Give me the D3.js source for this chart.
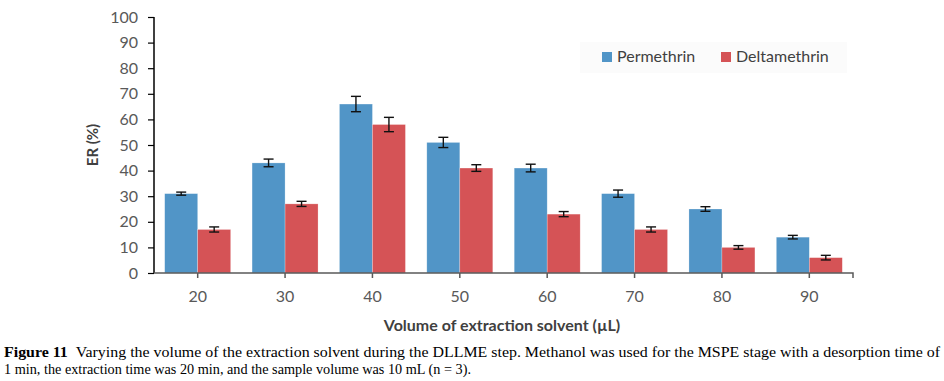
<!DOCTYPE html>
<html>
<head>
<meta charset="utf-8">
<script src="https://cdn.jsdelivr.net/npm/d3@7"></script>
<style>
  body { margin: 0; background: #fff; }
  svg { display: block; }
</style>
</head>
<body>
<div id="chart"></div>
<script>
// Données
const volumes = ["20", "30", "40", "50", "60", "70", "80", "90"];
const series = ["Permethrin", "Deltamethrin"];
const permethrin = [31, 43, 66, 51, 41, 31, 25, 14];
const permethrinErr = [0.6, 1.5, 3, 2, 1.5, 1.4, 0.9, 0.7];
const deltamethrin = [17, 27, 58, 41, 23, 17, 10, 6];
const deltamethrinErr = [1, 1, 2.8, 1.3, 1, 1, 0.7, 0.9];
const yTicks = [0, 10, 20, 30, 40, 50, 60, 70, 80, 90, 100];
const colors = ["#5195C7", "#D55356"];

const width = 944, height = 381;
const x0 = 154, x1 = 853, yTop = 17, yBottom = 273;
const font = "Lato, 'Open Sans', sans-serif";

const svg = d3.select("#chart").append("svg")
    .attr("width", width)
    .attr("height", height);

const xScale = d3.scaleBand()
    .domain(volumes)
    .range([x0, x1])
    .paddingInner(0.245)
    .paddingOuter(0.1225);

const xSub = d3.scaleBand()
    .domain(series)
    .range([0, xScale.bandwidth()]);

const yScale = d3.scaleLinear()
    .domain([0, 100])
    .range([yBottom, yTop]);

// Légende (fond gris très clair)
const legend = svg.append("g").attr("transform", "translate(580,42)");
legend.append("rect")
    .attr("width", 267).attr("height", 31)
    .attr("fill", "#fbfbfb");
series.forEach(function(s, i) {
    const row = legend.append("g")
        .attr("transform", "translate(" + (22 + i * 119) + ",10)");
    row.append("rect")
        .attr("width", 10).attr("height", 10)
        .attr("fill", colors[i]);
    row.append("text")
        .attr("x", 15).attr("y", 10)
        .style("font-family", font)
        .style("font-size", "16px")
        .attr("fill", "#404040")
        .text(s);
});

// Barres
const rows = volumes.map((v, i) => ({
    vol: v,
    values: [
        { key: series[0], value: permethrin[i], err: permethrinErr[i] },
        { key: series[1], value: deltamethrin[i], err: deltamethrinErr[i] }
    ]
}));

const groups = svg.append("g").selectAll("g")
    .data(rows).enter()
    .append("g")
    .attr("transform", d => "translate(" + xScale(d.vol) + ",0)");

groups.selectAll("rect")
    .data(d => d.values).enter()
    .append("rect")
    .attr("x", d => xSub(d.key))
    .attr("y", d => yScale(d.value))
    .attr("width", xSub.bandwidth())
    .attr("height", d => yBottom - yScale(d.value))
    .attr("fill", (d, i) => colors[i])
    .attr("stroke", "#ffffff")
    .attr("stroke-opacity", 0.4)
    .attr("stroke-width", 0.6);

// Barres d'erreur
const err = groups.selectAll("g.err")
    .data(d => d.values).enter()
    .append("g").attr("class", "err")
    .attr("stroke", "#111")
    .attr("stroke-width", 1.4);
err.append("line")
    .attr("x1", d => xSub(d.key) + xSub.bandwidth() / 2)
    .attr("x2", d => xSub(d.key) + xSub.bandwidth() / 2)
    .attr("y1", d => yScale(d.value + d.err))
    .attr("y2", d => yScale(d.value - d.err));
err.append("line")
    .attr("x1", d => xSub(d.key) + xSub.bandwidth() / 2 - 5)
    .attr("x2", d => xSub(d.key) + xSub.bandwidth() / 2 + 5)
    .attr("y1", d => yScale(d.value + d.err))
    .attr("y2", d => yScale(d.value + d.err));
err.append("line")
    .attr("x1", d => xSub(d.key) + xSub.bandwidth() / 2 - 5)
    .attr("x2", d => xSub(d.key) + xSub.bandwidth() / 2 + 5)
    .attr("y1", d => yScale(d.value - d.err))
    .attr("y2", d => yScale(d.value - d.err));

// Axe Y
const yAxis = svg.append("g")
    .attr("transform", "translate(" + x0 + ",0)")
    .call(d3.axisLeft(yScale).tickValues(yTicks).tickSize(6).tickPadding(10));
yAxis.select(".domain").attr("stroke", "#000").attr("stroke-width", 1.5)
    .attr("d", "M0," + yTop + "V" + yBottom);
yAxis.selectAll(".tick line").attr("stroke", "#000").attr("stroke-width", 1.2);
yAxis.selectAll(".tick text")
    .style("font-family", font)
    .style("font-size", "16px")
    .attr("fill", "#595959");

// Axe X
const xAxis = svg.append("g")
    .attr("transform", "translate(0," + yBottom + ")")
    .call(d3.axisBottom(xScale).tickSize(5).tickPadding(13));
xAxis.select(".domain").attr("stroke", "#595959").attr("stroke-width", 1.5)
    .attr("d", "M" + x0 + ",0H" + x1 + "V5");
xAxis.selectAll(".tick line").attr("stroke", "#595959").attr("stroke-width", 1.5);
xAxis.selectAll(".tick text")
    .style("font-family", font)
    .style("font-size", "16px")
    .attr("fill", "#595959");

// Titres des axes
svg.append("text")
    .attr("transform", "translate(98," + ((yTop + yBottom) / 2) + ") rotate(-90)")
    .style("text-anchor", "middle")
    .style("font-family", font)
    .style("font-size", "15px")
    .style("font-weight", "bold")
    .attr("fill", "#404040")
    .text("ER (%)");

svg.append("text")
    .attr("x", 502).attr("y", 331)
    .style("text-anchor", "middle")
    .style("font-family", font)
    .style("font-size", "16px")
    .style("font-weight", "bold")
    .attr("fill", "#404040")
    .text("Volume of extraction solvent (\u00b5L)");

// Légende de la figure
const caption = svg.append("g")
    .style("font-family", "'Liberation Serif', 'DejaVu Serif', serif")
    .style("font-size", "14px")
    .attr("fill", "#000");
const line1 = caption.append("text")
    .attr("x", 4).attr("y", 357)
    .attr("textLength", 936)
    .attr("lengthAdjust", "spacingAndGlyphs");
line1.append("tspan").style("font-weight", "bold").text("Figure 11");
line1.append("tspan").text("\u2002Varying the volume of the extraction solvent during the DLLME step. Methanol was used for the MSPE stage with a desorption time of");
caption.append("text")
    .attr("x", 4).attr("y", 374)
    .attr("textLength", 467)
    .attr("lengthAdjust", "spacingAndGlyphs")
    .text("1 min, the extraction time was 20 min, and the sample volume was 10 mL (n = 3).");
</script>
</body>
</html>
